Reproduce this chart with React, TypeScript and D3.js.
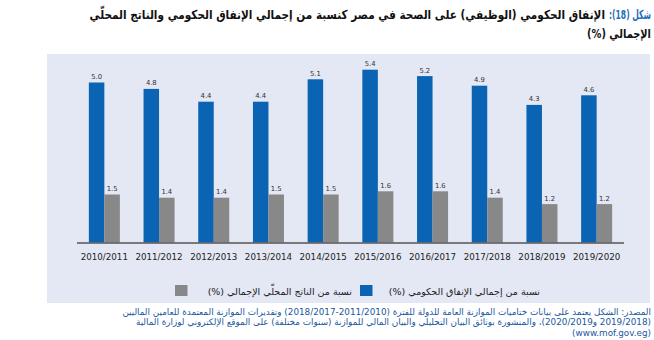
import React, { useLayoutEffect, useRef, useState } from "react";
import * as d3 from "d3";

const categories = ["2010/2011","2011/2012","2012/2013","2013/2014","2014/2015","2015/2016","2016/2017","2017/2018","2018/2019","2019/2020"];
const govShare = [5.0, 4.8, 4.4, 4.4, 5.1, 5.4, 5.2, 4.9, 4.3, 4.6];
const gdpShare = [1.5, 1.4, 1.4, 1.5, 1.5, 1.6, 1.6, 1.4, 1.2, 1.2];
const seriesKeys = ["gov", "gdp"];
const seriesNames = ["نسبة من إجمالي الإنفاق الحكومي (%)", "نسبة من الناتج المحلّي الإجمالي (%)"];
const titleLabel = "شكل (18):";
const titleLine1 = "الإنفاق الحكومي (الوظيفي) على الصحة في مصر كنسبة من إجمالي الإنفاق الحكومي والناتج المحلّي";
const titleLine2 = "الإجمالي (%)";
const sourceLines = [
  "المصدر: الشكل يعتمد على بيانات ختاميات الموازنة العامة للدولة للفترة (2011/2010-2018/2017) وتقديرات الموازنة المعتمدة للعامين الماليين",
  "(2019/2018 و2020/2019)، والمنشورة بوثائق البيان التحليلي والبيان المالي للموازنة (سنوات مختلفة) على الموقع الإلكتروني لوزارة المالية",
  "(www.mof.gov.eg)",
];

const W = 654, H = 340;
const BLUE = "#0a63b3";
const GRAY = "#888889";
const arabicFont = "'DejaVu Sans', sans-serif";

function FitText({ x, y, width, children, ...rest }: any) {
  const ref = useRef<SVGTextElement>(null);
  const [s, setS] = useState(1);
  useLayoutEffect(() => {
    if (ref.current) {
      const len = ref.current.getComputedTextLength();
      if (len > 0) setS(width / len);
    }
  }, [width, children]);
  return (
    <g transform={`translate(${x},${y}) scale(${s},1)`}>
      <text ref={ref} x={0} y={0} direction="rtl" textAnchor="start" {...rest}>{children}</text>
    </g>
  );
}

export default function App() {
  const x0 = d3.scaleBand<string>().domain(categories).range([77, 624]).paddingInner(0.433).paddingOuter(0.2165);
  const x1 = d3.scaleBand<string>().domain(seriesKeys).range([0, x0.bandwidth()]);
  const y = d3.scaleLinear().domain([0, 6]).range([242.5, 242.5 - 192]);
  const data = categories.map((c, i) => ({ c, vals: [govShare[i], gdpShare[i]] }));
  const colors = [BLUE, GRAY];

  return (
    <svg width={W} height={H} style={{ position: "absolute", left: 0, top: 0, background: "#fff" }}>
      <FitText x={651} y={19} width={42} fontFamily={arabicFont} fontWeight="bold" fontSize={12.5} fill="#1f6fb8">{titleLabel}</FitText>
      <FitText x={605} y={19} width={516} fontFamily={arabicFont} fontWeight="bold" fontSize={12.5} fill="#111">{titleLine1}</FitText>
      <FitText x={651} y={38} width={64} fontFamily={arabicFont} fontWeight="bold" fontSize={12.5} fill="#111">{titleLine2}</FitText>
      <rect x={47} y={54} width={603} height={249} fill="#e4e8f4" />
      {data.map((d) => (
        <g key={d.c} transform={`translate(${x0(d.c)},0)`}>
          {d.vals.map((v, j) => (
            <g key={j}>
              <rect x={x1(seriesKeys[j])} y={y(v)} width={x1.bandwidth()} height={y(0) - y(v)} fill={colors[j]} />
              <text x={(x1(seriesKeys[j]) as number) + x1.bandwidth() / 2} y={y(v) - 3.5} textAnchor="middle" fontFamily="'DejaVu Sans', sans-serif" fontSize={6.8} fill="#333">
                {d3.format(".1f")(v)}
              </text>
            </g>
          ))}
        </g>
      ))}
      <line x1={77} x2={624} y1={y(0) + 0.5} y2={y(0) + 0.5} stroke="#555" strokeWidth={1.5} />
      {categories.map((c) => (
        <text key={c} x={(x0(c) as number) + x0.bandwidth() / 2} y={260} textAnchor="middle" fontFamily="'DejaVu Sans', sans-serif" fontSize={8.7} fill="#222">
          {c}
        </text>
      ))}
      <rect x={360} y={285} width={12.5} height={11} fill={BLUE} />
      <text x={540} y={294.5} direction="rtl" textAnchor="start" fontFamily={arabicFont} fontSize={9.5} fill="#222">{seriesNames[0]}</text>
      <rect x={175} y={285} width={12.5} height={11} fill={GRAY} />
      <text x={352} y={294.5} direction="rtl" textAnchor="start" fontFamily={arabicFont} fontSize={9.5} fill="#222">{seriesNames[1]}</text>
      {sourceLines.map((s, i) => (
        <text key={i} x={651} y={314.5 + i * 10.8} direction="rtl" textAnchor="start" fontFamily={arabicFont} fontSize={8.8} fill="#1a57a0">{s}</text>
      ))}
    </svg>
  );
}
